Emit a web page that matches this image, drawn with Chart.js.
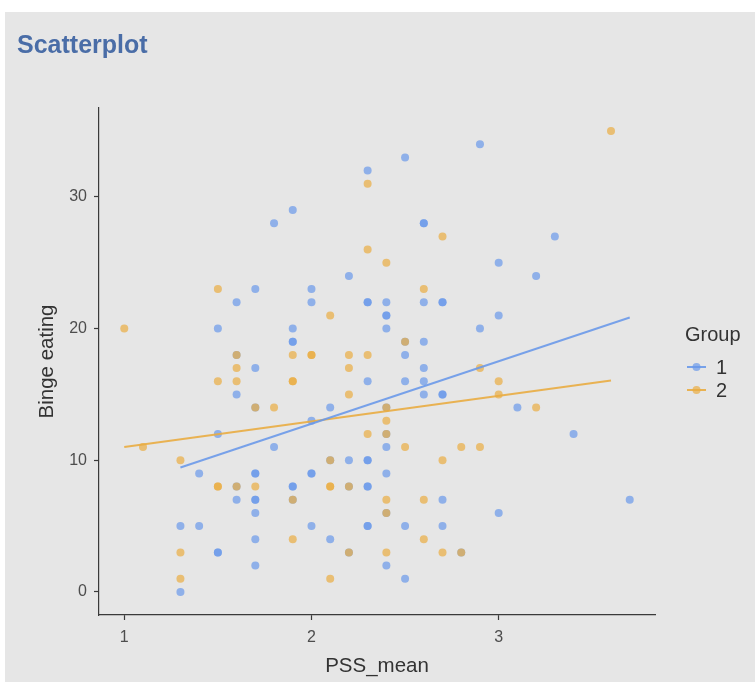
<!DOCTYPE html>
<html>
<head>
<meta charset="utf-8">
<script src="https://cdn.jsdelivr.net/npm/chart.js@4.4.1/dist/chart.umd.min.js"></script>
<style>
  html, body { margin: 0; padding: 0; background: #ffffff; }
  #panel { position: absolute; left: 5px; top: 12px; width: 750px; height: 670px; background: #e6e6e6; }
  canvas { display: block; }
</style>
</head>
<body>
<div id="panel"><canvas id="chart" width="750" height="670"></canvas></div>
<script>
// Group labels and axis text
const groupNames = ['1', '2'];
const legendTitle = 'Group';
const xTitle = 'PSS_mean';
const yTitle = 'Binge eating';
const xTicks = [1, 2, 3];
const yTicks = [0, 10, 20, 30];

// Group 1: PSS_mean and binge-eating score per participant
const pss1 = [1.9,1.8,2.9,2.5,2.3,2.6,2.6,2.2,3.3,3.0,
              3.2,1.7,1.6,1.5,1.9,1.9,1.9,1.6,1.7,1.6,
              1.7,1.5,2.0,2.0,2.3,2.3,2.4,2.6,2.7,2.7,
              2.4,2.4,2.4,2.9,2.5,2.6,2.5,2.6,2.3,2.5,
              2.6,2.6,2.7,2.7,2.1,2.4,2.0,2.4,3.0,3.1,
              3.4,1.4,1.7,1.7,1.6,1.9,1.9,1.6,1.7,1.7,
              1.9,1.7,1.3,1.4,1.7,1.5,1.5,1.7,1.3,1.8,
              2.4,2.1,2.2,2.3,2.3,2.0,2.0,2.4,2.2,2.3,
              2.3,2.7,2.4,2.0,2.3,2.3,2.5,2.7,2.1,2.2,
              2.8,2.4,2.5,3.0,3.7];
const binge1 = [29,28,34,33,32,28,28,24,27,25,
                24,23,22,20,20,19,19,18,17,15,
                14,12,23,22,22,22,22,22,22,22,
                21,21,20,20,19,19,18,17,16,16,
                16,15,15,15,14,14,13,12,21,14,
                12,9,9,9,8,8,8,7,7,7,
                7,6,5,5,4,3,3,2,0,11,
                11,10,10,10,10,9,9,9,8,8,
                8,7,6,5,5,5,5,5,4,3,
                3,2,1,6,7];

// Group 2: PSS_mean and binge-eating score per participant
const pss2 = [2.3,2.7,2.3,2.4,3.6,1.5,1.0,1.6,1.9,1.6,
              1.5,1.6,1.9,1.9,1.7,1.8,2.6,2.1,2.5,2.0,
              2.0,2.2,2.3,2.2,2.9,2.2,2.4,2.4,2.3,2.4,
              3.0,3.0,3.2,1.1,1.3,1.5,1.5,1.6,1.7,1.9,
              1.9,1.3,1.3,2.5,2.8,2.9,2.1,2.7,2.1,2.1,
              2.2,2.4,2.6,2.4,2.6,2.2,2.4,2.7,2.8,2.1];
const binge2 = [31,27,26,25,35,23,20,18,18,17,
                16,16,16,16,14,14,23,21,19,18,
                18,18,18,17,17,15,14,13,12,12,
                16,15,14,11,10,8,8,8,8,7,
                4,3,1,11,11,11,10,10,8,8,
                8,7,7,6,4,3,3,3,3,1];

// Linear-fit end points per group (PSS_mean, fitted binge eating)
const fitX1 = [1.3, 3.7];
const fitY1 = [9.45, 20.84];
const fitX2 = [1.0, 3.6];
const fitY2 = [11.0, 16.05];

const FONT = '"Liberation Sans", Arial, Helvetica, sans-serif';
const pointColors = ['rgba(106,153,233,0.7)', 'rgba(233,172,65,0.7)'];
const lineColors = ['rgba(106,153,233,0.9)', 'rgba(233,172,65,0.9)'];

function toPoints(xs, ys) {
  return xs.map((x, i) => ({ x: x, y: ys[i] }));
}

const groups = [[pss1, binge1], [pss2, binge2]];
const fits = [[fitX1, fitY1], [fitX2, fitY2]];

const datasets = [];
fits.forEach(([xs, ys], g) => {
  datasets.push({
    label: groupNames[g] + ' fit',
    data: toPoints(xs, ys),
    showLine: true,
    borderColor: lineColors[g],
    borderWidth: 2,
    pointRadius: 0,
    fill: false,
    order: 0
  });
});
groups.forEach(([xs, ys], g) => {
  datasets.push({
    label: groupNames[g],
    data: toPoints(xs, ys),
    backgroundColor: pointColors[g],
    borderWidth: 0,
    pointRadius: 4,
    pointHoverRadius: 4,
    order: 2 - g
  });
});

// Legend on the right: title, then a line-with-dot key per group
const groupLegend = {
  id: 'groupLegend',
  afterDraw(chart) {
    const ctx = chart.ctx;
    ctx.save();
    ctx.textBaseline = 'middle';
    ctx.textAlign = 'left';
    ctx.fillStyle = '#333333';
    ctx.font = '20px ' + FONT;
    ctx.fillText(legendTitle, 680, 323);
    groupNames.forEach((name, g) => {
      const y = 355 + g * 23;
      ctx.strokeStyle = lineColors[g];
      ctx.lineWidth = 2;
      ctx.beginPath();
      ctx.moveTo(682, y);
      ctx.lineTo(701, y);
      ctx.stroke();
      ctx.fillStyle = pointColors[g];
      ctx.beginPath();
      ctx.arc(691.5, y, 4, 0, Math.PI * 2);
      ctx.fill();
      ctx.fillStyle = '#333333';
      ctx.fillText(name, 711, y + 1);
    });
    ctx.restore();
  }
};

const axisBase = {
  type: 'linear',
  border: { display: true, color: '#3a3a3a', width: 1.2 },
  grid: { display: true, drawOnChartArea: false, drawTicks: true, tickLength: 5, color: '#3a3a3a', tickWidth: 1.2 },
};

new Chart(document.getElementById('chart'), {
  type: 'scatter',
  data: { datasets: datasets },
  options: {
    responsive: false,
    animation: false,
    devicePixelRatio: 1,
    layout: { padding: { left: 12, right: 100, top: 0, bottom: 0 } },
    plugins: {
      legend: { display: false },
      tooltip: { enabled: false },
      title: {
        display: true,
        text: 'Scatterplot',
        align: 'start',
        color: '#4a6da7',
        font: { family: FONT, size: 25, weight: 'bold', lineHeight: 1.2 },
        padding: { top: 19, bottom: 47 }
      }
    },
    scales: {
      x: Object.assign({}, axisBase, {
        min: 0.865,
        max: 3.835,
        afterBuildTicks: s => { s.ticks = xTicks.map(v => ({ value: v })); },
        afterFit: s => { s.height = 67; },
        ticks: { color: '#4d4d4d', padding: 8, font: { family: FONT, size: 16 }, maxRotation: 0 },
        title: { display: true, text: xTitle, color: '#333333', font: { family: FONT, size: 20.5, lineHeight: 1.2 }, padding: { top: 0, bottom: 3 } }
      }),
      y: Object.assign({}, axisBase, {
        min: -1.75,
        max: 36.75,
        afterBuildTicks: s => { s.ticks = yTicks.map(v => ({ value: v })); },
        afterFit: s => { s.width = 82; },
        ticks: { color: '#4d4d4d', padding: 7, font: { family: FONT, size: 16 } },
        title: { display: true, text: yTitle, color: '#333333', font: { family: FONT, size: 20.5, lineHeight: 1.2 }, padding: { top: 18, bottom: 0 } }
      })
    }
  },
  plugins: [groupLegend]
});
</script>
</body>
</html>
